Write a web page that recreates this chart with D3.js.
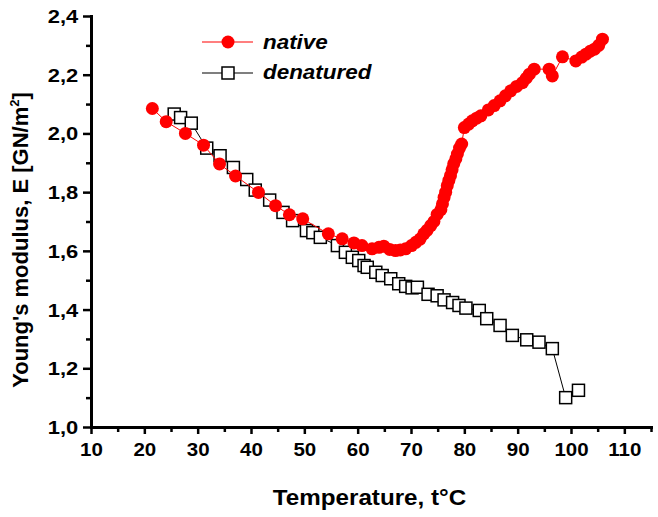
<!DOCTYPE html>
<html><head><meta charset="utf-8">
<script src="https://cdn.jsdelivr.net/npm/d3@7"></script>
<style>body{margin:0;background:#fff}svg{display:block}</style>
</head><body>
<svg id="c" width="658" height="517"></svg>
<script>
// ---- data ----
const nativeT = [21.5,24.1,27.7,31.1,34.1,37.1,41.4,44.6,47.2,49.7,54.5,57.1,59.3,60.8,62.7,64.0,64.9,66.0,67.1,68.0,69.0,70.1,70.9,71.7,72.4,73.0,73.7,74.3,74.9,75.6,75.9,76.2,76.5,76.8,77.1,77.4,77.7,78.0,78.4,78.7,79.1,79.5,80.0,80.8,81.5,82.3,83.1,84.5,85.6,86.7,87.7,88.7,89.8,90.9,91.6,92.2,93.1,95.9,96.5,98.4,100.9,102.0,102.8,103.6,104.4,105.2,105.9];
const nativeE = [2.085,2.040,2.000,1.960,1.896,1.855,1.799,1.754,1.723,1.709,1.658,1.641,1.627,1.618,1.607,1.612,1.616,1.605,1.601,1.603,1.607,1.618,1.629,1.640,1.658,1.670,1.686,1.700,1.724,1.740,1.760,1.782,1.800,1.822,1.840,1.856,1.876,1.896,1.913,1.930,1.950,1.964,2.020,2.032,2.043,2.052,2.060,2.080,2.095,2.111,2.128,2.145,2.160,2.173,2.188,2.202,2.219,2.219,2.196,2.261,2.247,2.260,2.270,2.280,2.287,2.300,2.321];
const denT = [25.6,26.8,28.8,31.7,34.2,36.7,39.2,40.8,43.5,46.0,47.8,50.4,51.6,53.0,56.2,57.7,59.0,60.2,61.2,61.8,63.4,64.6,66.2,67.7,69.0,70.2,71.2,73.2,74.9,76.2,77.8,79.0,80.3,82.8,84.2,86.7,89.0,91.7,94.0,96.5,99.0,101.4];
const denE = [2.066,2.054,2.035,1.950,1.924,1.884,1.843,1.807,1.773,1.731,1.703,1.669,1.662,1.646,1.618,1.595,1.578,1.567,1.550,1.544,1.527,1.516,1.505,1.488,1.479,1.474,1.476,1.452,1.447,1.433,1.424,1.414,1.405,1.397,1.369,1.346,1.312,1.297,1.289,1.267,1.100,1.125];
const xTicks = [10,20,30,40,50,60,70,80,90,100,110];
const xTickLabels = ["10","20","30","40","50","60","70","80","90","100","110"];
const xMinor = [15,25,35,45,55,65,75,85,95,105,115];
const yTicks = [1.0,1.2,1.4,1.6,1.8,2.0,2.2,2.4];
const yTickLabels = ["1,0","1,2","1,4","1,6","1,8","2,0","2,2","2,4"];
const yMinor = [1.1,1.3,1.5,1.7,1.9,2.1,2.3];
const seriesNames = ["native","denatured"];

// ---- layout ----
const svg = d3.select("#c");
const FONT = "'Liberation Sans', Arial, sans-serif";
const x = d3.scaleLinear().domain([10,115]).range([91,651]);
const y = d3.scaleLinear().domain([1.0,2.4]).range([427,16]);

function styleAxis(g){
  g.select(".domain").attr("stroke","#000").attr("stroke-width",3).attr("stroke-linecap","square");
  g.selectAll(".tick line").attr("stroke","#000").attr("stroke-width",2.5);
}
// minor ticks
const gxm = svg.append("g").attr("transform","translate(0,427)")
  .call(d3.axisBottom(x).tickValues(xMinor).tickSize(5).tickSizeOuter(0).tickFormat(""));
styleAxis(gxm);
const gym = svg.append("g").attr("transform","translate(91,0)")
  .call(d3.axisLeft(y).tickValues(yMinor).tickSize(5).tickSizeOuter(0).tickFormat(""));
styleAxis(gym);
// major
const gx = svg.append("g").attr("transform","translate(0,427)")
  .call(d3.axisBottom(x).tickValues(xTicks).tickSize(7).tickSizeOuter(0).tickFormat((d,i)=>xTickLabels[i]));
styleAxis(gx);
const sxX = 1.08;
gx.selectAll(".tick text").attr("y",28.7).attr("dy",0).attr("fill","#000")
  .attr("font-family",FONT).attr("font-weight","bold").attr("font-size",19)
  .attr("transform",`scale(${sxX},1)`);
const gy = svg.append("g").attr("transform","translate(91,0)")
  .call(d3.axisLeft(y).tickValues(yTicks).tickSize(8).tickSizeOuter(0).tickFormat((d,i)=>yTickLabels[i]));
styleAxis(gy);
const sxY = 1.22;
gy.selectAll(".tick text").attr("x",-12.7/sxY).attr("dy","0.36em").attr("fill","#000")
  .attr("font-family",FONT).attr("font-weight","bold").attr("font-size",18)
  .attr("transform",`scale(${sxY},1)`);

// axis titles
svg.append("text").attr("transform","translate(369.5,505) scale(1.1,1)")
  .attr("text-anchor","middle").attr("font-family",FONT).attr("font-weight","bold").attr("font-size",22)
  .text("Temperature, t°C");
const yt = svg.append("text").attr("transform","translate(28,240) rotate(-90)")
  .attr("text-anchor","middle").attr("font-family",FONT).attr("font-weight","bold").attr("font-size",22);
yt.append("tspan").text("Young's modulus, E [GN/m");
yt.append("tspan").attr("font-size",13).attr("dy",-9).text("2");
yt.append("tspan").attr("dy",9).text("]");

// series: denatured (below), native (on top)
const den = denT.map((t,i)=>[t,denE[i]]);
const nat = nativeT.map((t,i)=>[t,nativeE[i]]);
const line = d3.line().x(d=>x(d[0])).y(d=>y(d[1]));
svg.append("path").datum(den).attr("d",line).attr("fill","none").attr("stroke","#000").attr("stroke-width",1);
svg.append("g").selectAll("rect").data(den).join("rect")
  .attr("x",d=>x(d[0])-6).attr("y",d=>y(d[1])-6).attr("width",12).attr("height",12)
  .attr("fill","#fff").attr("stroke","#000").attr("stroke-width",1.5);
svg.append("path").datum(nat).attr("d",line).attr("fill","none").attr("stroke","#ff0000").attr("stroke-width",1);
svg.append("g").selectAll("circle").data(nat).join("circle")
  .attr("cx",d=>x(d[0])).attr("cy",d=>y(d[1])).attr("r",6.5).attr("fill","#ff0000");

// legend
const lg = svg.append("g");
lg.append("line").attr("x1",202).attr("x2",253).attr("y1",42).attr("y2",42).attr("stroke","#ff0000").attr("stroke-width",1.2);
lg.append("circle").attr("cx",228).attr("cy",42).attr("r",6.5).attr("fill","#ff0000");
lg.append("line").attr("x1",202).attr("x2",253).attr("y1",73).attr("y2",73).attr("stroke","#000").attr("stroke-width",1.2);
lg.append("rect").attr("x",222).attr("y",67).attr("width",12).attr("height",12).attr("fill","#fff").attr("stroke","#000").attr("stroke-width",1.5);
lg.append("text").attr("transform","translate(263,49) scale(1.15,1)").attr("font-family",FONT)
  .attr("font-weight","bold").attr("font-style","italic").attr("font-size",19.5).text(seriesNames[0]);
lg.append("text").attr("transform","translate(263,78.5) scale(1.15,1)").attr("font-family",FONT)
  .attr("font-weight","bold").attr("font-style","italic").attr("font-size",19.5).text(seriesNames[1]);
</script>
</body></html>
